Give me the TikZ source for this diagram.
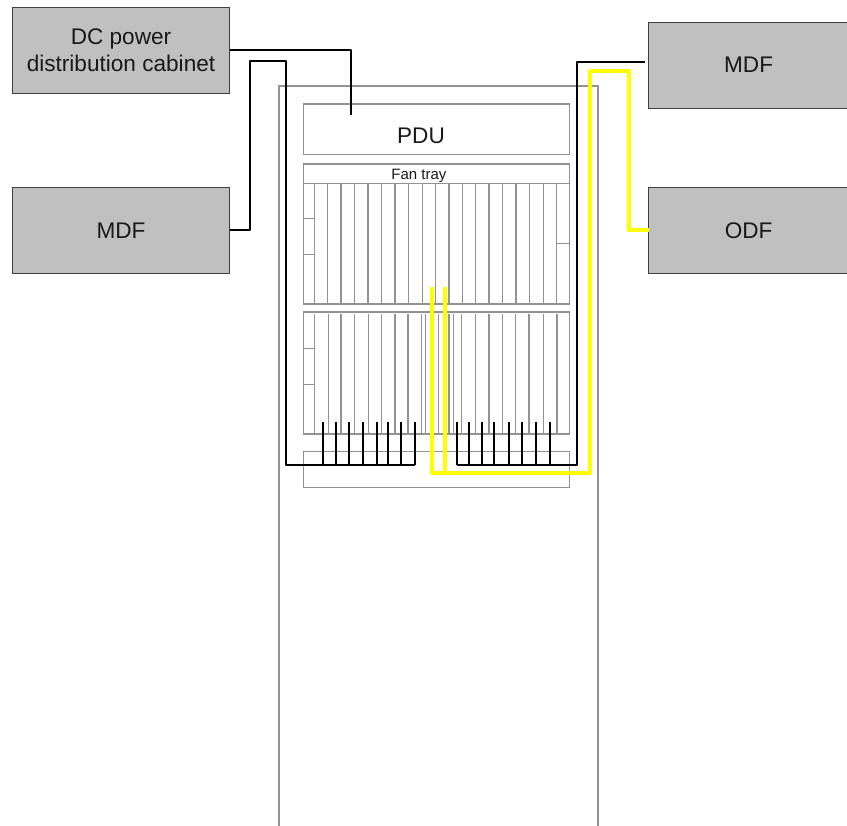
\documentclass[tikz,border=0pt]{standalone}
\usepackage{fontspec}
\setmainfont{Liberation Sans}
\definecolor{framegray}{HTML}{929292}
\definecolor{boxgray}{HTML}{C0C0C0}
\definecolor{boxedge}{HTML}{404040}
\definecolor{cableyellow}{HTML}{FFFF00}
\tikzset{
  unitbox/.style={draw=boxedge,fill=boxgray,line width=0.9pt,inner sep=0pt,outer sep=0pt,align=center,
    font=\fontsize{22.6}{26.4}\selectfont,text=black!90},
  frame/.style={draw=framegray,line width=1.6pt},
  thinframe/.style={draw=framegray,line width=1.5pt},
  blackcable/.style={draw=black,line width=2pt,line join=round},
  blackstub/.style={draw=black,line width=1.8pt},
  yellowcable/.style={draw=cableyellow,line width=4pt,line join=round},
  biglabel/.style={font=\fontsize{22.6}{26.4}\selectfont,inner sep=0pt,text=black!90},
  smalllabel/.style={font=\fontsize{15}{18}\selectfont,inner sep=0pt,text=black!90}
}
\begin{document}
\begin{tikzpicture}[x=1pt,y=-1pt]
\useasboundingbox (0,0) rectangle (847,826);
% rack (open at the bottom)
\draw[frame] (279,826) -- (279,86) -- (597.7,86) -- (597.7,826);
% PDU
\draw[frame] (303.3,104) rectangle (569.3,154.7);
\node[biglabel] (pdu) at (421,136) {PDU};
% upper shelf with fan tray
\draw[frame] (303.3,164) rectangle (569.3,304);
\draw[thinframe] (303.3,183.7) -- (569.3,183.7);
\node[smalllabel,anchor=base] (fan) at (419,179.3) {Fan tray};
\foreach \x in {314.7,327.7,341,354.7,368,381.7,395,408.7,422.3,435.7,449,462.3,475.7,489,502.3,516,529.7,543.3,556.7}
  \draw[thinframe] (\x,183.7) -- (\x,304);
\draw[thinframe] (303.3,218.3) -- (314.7,218.3);
\draw[thinframe] (303.3,254.3) -- (314.7,254.3);
\draw[thinframe] (556.7,243.3) -- (569.3,243.3);
% lower shelf
\draw[frame] (303.3,312.3) rectangle (569.3,434.3);
\foreach \x in {314.7,328.3,341,354.7,368.3,381.7,395,408,421.3,425.7,438.3,449,453.3,461.7,475.7,489,502.3,515.7,529,543.7,557}
  \draw[thinframe] (\x,314) -- (\x,434.3);
\draw[thinframe] (303.3,348.7) -- (314.7,348.7);
\draw[thinframe] (303.3,384.3) -- (314.7,384.3);
% bottom unit
\draw[frame] (303.3,451.7) rectangle (569.3,487.7);
% external units
\node[unitbox,minimum width=217.4pt,minimum height=85.7pt] (dc) at (121,50.15) {DC power\\distribution cabinet};
\node[unitbox,minimum width=217.4pt,minimum height=86pt] (mdfl) at (121,230.3) {MDF};
\node[unitbox,minimum width=199.8pt,minimum height=86pt] (mdfr) at (748.6,65) {MDF};
\node[unitbox,minimum width=199.8pt,minimum height=85.7pt] (odf) at (748.6,230.5) {ODF};
% named free ends
\coordinate (pduend) at (350.7,114.7);
\coordinate (leftend) at (415.3,465);
\coordinate (rightstart) at (645,61.7);
\coordinate (rightend) at (457,465.3);
\coordinate (yelA) at (431.7,287.3);
\coordinate (yelB) at (445.3,287.3);
% black cables
\draw[blackcable] (dc.east) -| (pduend);
\draw[blackcable] (mdfl.east) -| (249.7,61.3) -- (285.7,61.3) -- (285.7,465) -- (leftend);
\foreach \x in {323.3,336,349.3,363.3,376.7,388,400.7,415.3}
  \draw[blackstub] (\x,465) -- (\x,422.3);
\draw[blackcable] (rightstart) -- (577,61.7) -- (577,465.3) -- (rightend);
\foreach \x in {457,469,481.7,494.3,509,521.7,536.3,549.7}
  \draw[blackstub] (\x,465.3) -- (\x,422.3);
% yellow cables
\draw[yellowcable] (odf.west) -| (629,71) -- (590.3,71) -- (590.3,472.7) -- (431.7,472.7) -- (yelA);
\draw[yellowcable] (445.3,472.7) -- (yelB);
\end{tikzpicture}
\end{document}
